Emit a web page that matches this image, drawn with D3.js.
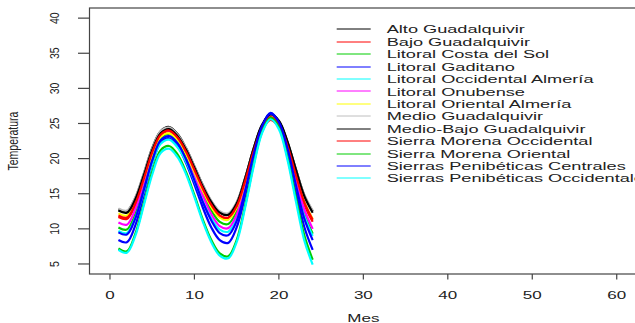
<!DOCTYPE html>
<html>
<head>
  <meta charset="utf-8">
  <title>Temperatura por mes</title>
  <script src="https://d3js.org/d3.v7.min.js"></script>
  <style>
    html, body {
      margin: 0;
      padding: 0;
      background: #fff;
    }
    text {
      font-family: "Liberation Sans", Arial, sans-serif;
      fill: #222;
    }
  </style>
</head>
<body>
  <svg id="chart" width="635" height="323"></svg>

  <script>
    // months 1..24
    var meses = [1,2,3,4,5,6,7,8,9,10,11,12,13,14,15,16,17,18,19,20,21,22,23,24];

    var regiones = [
      "Alto Guadalquivir", "Bajo Guadalquivir", "Litoral Costa del Sol", "Litoral Gaditano",
      "Litoral Occidental Almería", "Litoral Onubense", "Litoral Oriental Almería",
      "Medio Guadalquivir", "Medio-Bajo Guadalquivir", "Sierra Morena Occidental",
      "Sierra Morena Oriental", "Sierras Penibéticas Centrales", "Sierras Penibéticas Occidentales"
    ];

    // R default palette, recycled
    var colores = ["#000000", "#FF0000", "#00CD00", "#0000FF", "#00FFFF", "#FF00FF", "#FFFF00",
                   "#BEBEBE", "#000000", "#FF0000", "#00CD00", "#0000FF", "#00FFFF"];

    var altoGuadalquivir      = [12.8,12.5,14.4,17.8,21.5,23.9,24.5,23.5,21.5,18.9,16.2,13.9,12.4,12.0,13.7,17.2,21.4,24.7,26.2,25.3,22.4,18.5,14.8,12.5];
    var bajoGuadalquivir      = [11.7,11.4,13.4,17.0,20.7,23.3,23.9,22.9,20.9,18.3,15.6,13.3,11.8,11.5,13.1,16.6,20.7,24.0,25.5,24.5,21.5,17.4,13.5,11.0];
    var costaDelSol           = [10.2,9.9,12.1,16.0,20.1,22.9,23.5,22.5,20.4,17.8,14.9,12.6,11.0,10.7,12.5,16.3,20.8,24.5,26.1,25.0,21.5,16.7,12.2,9.3];
    var litoralGaditano       = [8.4,8.1,10.5,14.8,19.2,22.3,22.9,21.8,19.4,16.3,13.0,10.2,8.4,8.0,10.2,14.7,20.2,24.6,26.5,25.2,21.2,15.6,10.3,7.0];
    var occidentalAlmeria     = [9.7,9.4,11.6,15.3,19.3,22.1,22.7,21.6,19.6,16.8,13.9,11.5,9.9,9.6,11.5,15.6,20.4,24.3,26.0,24.9,21.3,16.5,11.9,9.0];
    var litoralOnubense       = [10.9,10.6,12.8,16.6,20.7,23.5,24.0,23.0,20.8,17.8,14.7,12.1,10.4,10.1,12.0,16.0,20.7,24.5,26.2,25.1,21.8,17.1,12.8,10.0];
    var orientalAlmeria       = [12.2,11.9,13.8,17.1,20.6,23.1,23.6,22.6,20.7,18.1,15.4,13.1,11.6,11.3,13.0,16.7,21.0,24.6,26.1,25.1,22.1,17.9,13.9,11.4];
    var medioGuadalquivir     = [12.9,12.6,14.5,17.9,21.4,23.9,24.4,23.4,21.5,18.9,16.2,14.0,12.5,12.2,13.8,17.2,21.3,24.6,26.0,25.1,22.3,18.5,14.9,12.6];
    var medioBajoGuadalquivir = [12.6,12.3,14.2,17.6,21.2,23.6,24.2,23.2,21.3,18.7,16.0,13.8,12.3,12.0,13.6,17.2,21.4,24.8,26.3,25.4,22.5,18.5,14.7,12.3];
    var morenaOccidental      = [11.9,11.6,13.6,17.1,20.9,23.4,24.0,23.0,21.0,18.4,15.7,13.4,11.9,11.6,13.2,16.8,21.0,24.4,25.9,24.9,21.9,17.7,13.8,11.3];
    var morenaOriental        = [7.2,6.8,9.3,13.6,18.1,21.2,21.8,20.6,18.1,14.8,11.3,8.4,6.5,6.1,8.4,13.3,19.1,23.8,25.8,24.5,20.3,14.5,9.1,5.6];
    var penibeticasCentrales  = [9.5,9.2,11.5,15.5,19.7,22.6,23.2,22.2,19.9,16.9,13.8,11.2,9.4,9.1,11.1,15.4,20.5,24.6,26.4,25.2,21.5,16.3,11.5,8.4];
    var penibeticasOccident   = [7.0,6.6,9.0,13.3,17.7,20.8,21.4,20.2,17.8,14.5,11.0,8.1,6.2,5.8,8.1,13.0,18.8,23.6,25.6,24.2,19.9,14.0,8.4,4.9];

    var series = [altoGuadalquivir, bajoGuadalquivir, costaDelSol, litoralGaditano, occidentalAlmeria,
                  litoralOnubense, orientalAlmeria, medioGuadalquivir, medioBajoGuadalquivir,
                  morenaOccidental, morenaOriental, penibeticasCentrales, penibeticasOccident];

    var xTicks = [0, 10, 20, 30, 40, 50, 60];
    var yTicks = [5, 10, 15, 20, 25, 30, 35, 40];

    var svg = d3.select("#chart");

    // plot region (R extends xlim/ylim by 4%)
    var x = d3.scaleLinear().domain([-2.4, 62.4]).range([89.7, 637]);
    var y = d3.scaleLinear().domain([3.6, 41.4]).range([273.8, 8.3]);

    var line = d3.line()
      .x((d, i) => x(meses[i]))
      .y(d => y(d))
      .curve(d3.curveCatmullRom.alpha(0.5));

    // curves
    svg.append("g")
      .selectAll("path")
      .data(series)
      .join("path")
      .attr("d", line)
      .attr("fill", "none")
      .attr("stroke", (d, i) => colores[i])
      .attr("stroke-width", 2.2);

    // box
    svg.append("rect")
      .attr("x", 89.5)
      .attr("y", 8)
      .attr("width", 560)
      .attr("height", 266)
      .attr("fill", "none")
      .attr("stroke", "#444")
      .attr("stroke-width", 1.2);

    // x axis ticks + labels
    var gx = svg.append("g");
    gx.selectAll("line")
      .data(xTicks)
      .join("line")
      .attr("x1", d => x(d)).attr("x2", d => x(d))
      .attr("y1", 274).attr("y2", 279.5)
      .attr("stroke", "#444")
      .attr("stroke-width", 1.2);
    gx.selectAll("text")
      .data(xTicks)
      .join("text")
      .attr("transform", d => "translate(" + x(d) + ",298.5) scale(1.62,1)")
      .attr("text-anchor", "middle")
      .style("font-size", "10.5px")
      .text(d => d);

    svg.append("text")
      .attr("transform", "translate(" + x(30) + ",322) scale(1.62,1)")
      .attr("text-anchor", "middle")
      .style("font-size", "10.5px")
      .text("Mes");

    // y axis ticks + labels
    var gy = svg.append("g");
    gy.selectAll("line")
      .data(yTicks)
      .join("line")
      .attr("x1", 78).attr("x2", 89.5)
      .attr("y1", d => y(d)).attr("y2", d => y(d))
      .attr("stroke", "#444")
      .attr("stroke-width", 1.2);
    gy.selectAll("text")
      .data(yTicks)
      .join("text")
      .attr("transform", d => "translate(58.5," + y(d) + ") scale(1.3,1) rotate(-90)")
      .attr("text-anchor", "middle")
      .style("font-size", "10.5px")
      .text(d => d);

    svg.append("text")
      .attr("transform", "translate(18," + y(22.5) + ") scale(1.35,1) rotate(-90)")
      .attr("text-anchor", "middle")
      .style("font-size", "10.5px")
      .text("Temperatura");

    // legend
    var leg = svg.append("g");
    leg.selectAll("line")
      .data(regiones)
      .join("line")
      .attr("x1", 336.7).attr("x2", 370.7)
      .attr("y1", (d, i) => Math.round(29.3 + i * 12.42))
      .attr("y2", (d, i) => Math.round(29.3 + i * 12.42))
      .attr("stroke", (d, i) => colores[i])
      .attr("stroke-width", 1);
    leg.selectAll("text")
      .data(regiones)
      .join("text")
      .attr("transform", (d, i) => "translate(386.7," + (33.4 + i * 12.42) + ") scale(1.58,1)")
      .style("font-size", "11.5px")
      .text(d => d);
  </script>
</body>
</html>
